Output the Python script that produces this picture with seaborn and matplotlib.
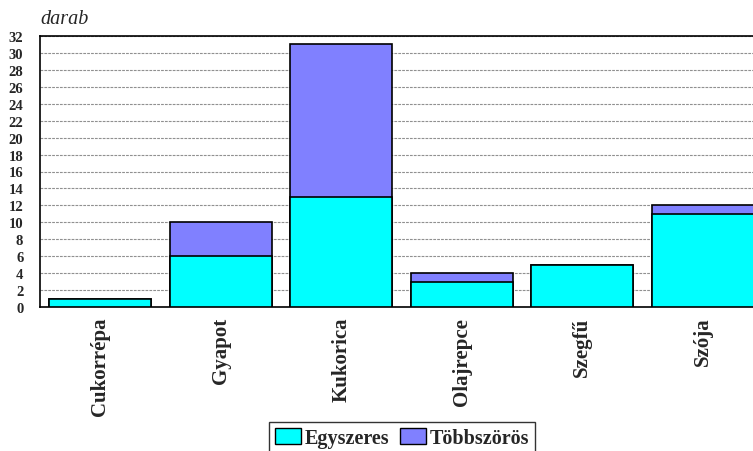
import matplotlib
matplotlib.use("Agg")
import matplotlib.pyplot as plt
import seaborn as sns
import pandas as pd
from matplotlib.patches import Patch

categories = ["Cukorrépa", "Gyapot", "Kukorica", "Olajrepce", "Szegfű", "Szója"]
egyszeres = [1, 6, 13, 3, 5, 11]
tobbszoros = [0, 4, 18, 1, 0, 1]
y_ticks = list(range(0, 33, 2))

sns.set_theme(style="white")
plt.rcParams["font.family"] = ["Liberation Serif", "DejaVu Serif"]

df = pd.DataFrame({"cat": categories, "egy": egyszeres, "tobb": tobbszoros})
df["total"] = df["egy"] + df["tobb"]

cyan = "#00FFFF"
lav = "#8080FF"

fig = plt.figure(figsize=(7.53, 4.52), dpi=100)
ax = fig.add_axes([40 / 753, 1 - 308 / 452, 723 / 753, (308 - 37) / 452])

sns.barplot(data=df, x="cat", y="total", color=lav, saturation=1, width=0.85,
            edgecolor="black", linewidth=1.2, ax=ax, zorder=3)
sns.barplot(data=df, x="cat", y="egy", color=cyan, saturation=1, width=0.85,
            edgecolor="black", linewidth=1.2, ax=ax, zorder=4)

ax.set_xlim(-0.5, len(categories) - 0.5)
ax.set_ylim(0, 32)
ax.set_yticks(y_ticks)
ax.set_yticklabels([str(t) for t in y_ticks], fontweight="bold", fontsize=10.5)
ax.yaxis.grid(True, linestyle=(0, (2.5, 1)), color="#909090", linewidth=0.8, zorder=0)
ax.set_axisbelow(True)
ax.tick_params(axis="y", length=0, pad=12)
ax.tick_params(axis="x", length=0, pad=7)
ax.set_xticks(range(len(categories)))
ax.set_xticklabels(categories, rotation=90, fontweight="bold", fontsize=15)
ax.set_xlabel("")
ax.set_ylabel("")
for s in ax.spines.values():
    s.set_color("black")
    s.set_linewidth(1.2)

fig.text(40 / 753, 1 - 20 / 452, "darab", style="italic", fontsize=14.5, va="center", ha="left")

handles = [Patch(facecolor=cyan, edgecolor="black", label="Egyszeres"),
           Patch(facecolor=lav, edgecolor="black", label="Többszörös")]
leg = fig.legend(handles=handles, loc="upper center", bbox_to_anchor=(402 / 753, 1 - 423 / 452),
                 ncol=2, frameon=True, fancybox=False, handlelength=1.3, handleheight=0.8,
                 handletextpad=0.2, columnspacing=0.5, borderpad=0.3, borderaxespad=0,
                 prop={"weight": "bold", "size": 14.5})
leg.get_frame().set_edgecolor("black")
leg.get_frame().set_linewidth(1.0)

fig.savefig("out.png", dpi=100)
